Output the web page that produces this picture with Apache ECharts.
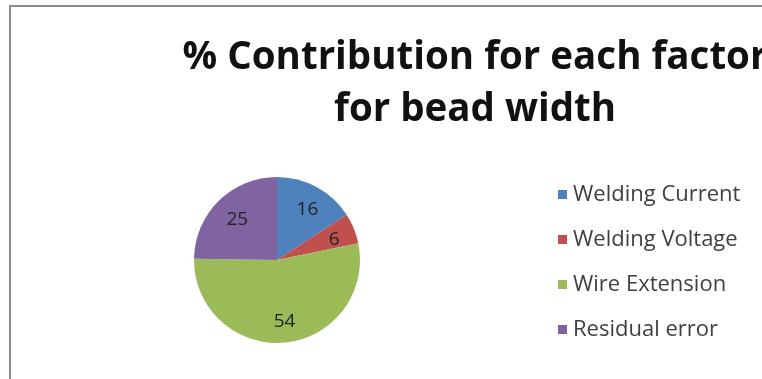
<!DOCTYPE html>
<html>
<head>
    <meta charset="utf-8">
    <title>% Contribution for each factor</title>
    <script src="https://cdn.jsdelivr.net/npm/echarts@6/dist/echarts.min.js"></script>
    <style>
        html, body { margin: 0; padding: 0; background: #fff; }
        #chart1 { width: 762px; height: 379px; }
    </style>
</head>
<body>
<div id="chart1"></div>
<script type="text/javascript">
    // data
    var factors = ['Welding Current', 'Welding Voltage', 'Wire Extension', 'Residual error'];
    var contribution = [16, 6, 54, 25];
    var colors = ['#4f81bd', '#c0504d', '#9bbb59', '#8064a2'];

    var pieData = factors.map(function (name, i) {
        return { name: name, value: contribution[i], itemStyle: { color: colors[i] } };
    });

    var myChart1 = echarts.init(document.getElementById('chart1'));

    myChart1.setOption({
        backgroundColor: '#fff',
        animation: false,
        title: {
            text: '% Contribution for each factor\nfor bead width',
            left: 470,
            top: 27,
            textAlign: 'center',
            textStyle: {
                fontFamily: 'Open Sans',
                fontWeight: 'bold',
                fontSize: 38.5,
                lineHeight: 52,
                color: '#111'
            }
        },
        legend: {
            orient: 'vertical',
            left: 553,
            top: 177,
            icon: 'rect',
            itemWidth: 9,
            itemHeight: 9,
            itemGap: 20,
            textStyle: { fontFamily: 'Open Sans', fontSize: 22, lineHeight: 25, color: '#404040', padding: [0, 0, 0, 1] },
            data: factors.map(function (name, i) {
                return { name: name, itemStyle: { color: colors[i] } };
            })
        },
        graphic: [{
            type: 'polyline',
            shape: { points: [[10, 379], [10, 6], [762, 6]] },
            style: { stroke: '#8c8c8c', lineWidth: 2, fill: null }
        }],
        series: [{
            // the slices
            type: 'pie',
            center: [277, 260],
            radius: 83,
            startAngle: 90,
            clockwise: true,
            label: { show: false },
            labelLine: { show: false },
            data: pieData
        }, {
            // labels only, pushed outward a bit like the original
            type: 'pie',
            silent: true,
            center: [279, 262],
            radius: [30, 83],
            startAngle: 90,
            clockwise: true,
            itemStyle: { color: 'rgba(0,0,0,0)' },
            label: {
                show: true,
                position: 'inner',
                formatter: '{c}',
                fontFamily: 'Open Sans',
                fontSize: 19,
                color: '#222'
            },
            labelLine: { show: false },
            data: factors.map(function (name, i) {
                return { name: name, value: contribution[i] };
            })
        }]
    });
</script>
</body>
</html>
